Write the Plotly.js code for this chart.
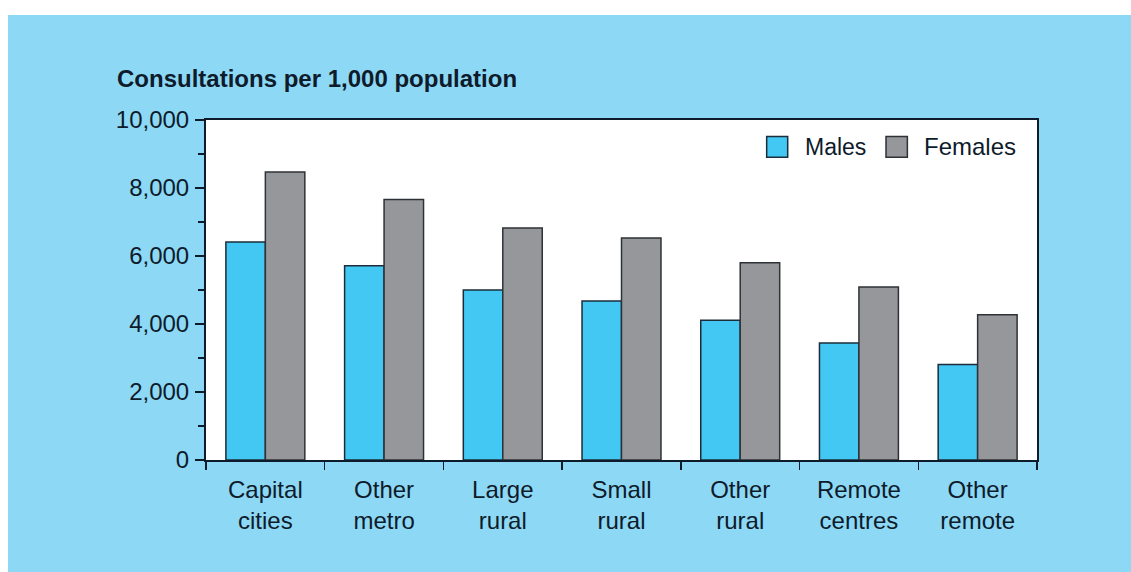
<!DOCTYPE html>
<html>
<head>
<meta charset="utf-8">
<script src="https://cdn.plot.ly/plotly-3.0.1.min.js"></script>
<style>
  html, body { margin: 0; padding: 0; background: #ffffff; width: 1131px; height: 572px; overflow: hidden; }
  #chart { position: absolute; left: 8px; top: 15px; width: 1123px; height: 557px; }
</style>
</head>
<body>
<div id="chart"></div>
<script>
const categories = ['Capital<br>cities', 'Other<br>metro', 'Large<br>rural', 'Small<br>rural', 'Other<br>rural', 'Remote<br>centres', 'Other<br>remote'];
const males   = [6410, 5710, 5000, 4680, 4110, 3440, 2810];
const females = [8470, 7660, 6820, 6530, 5800, 5090, 4270];
const seriesNames = ['Males', 'Females'];
const seriesColors = ['#42c8f2', '#96979b'];

const textColor = '#0d1b2a';
const fontFam = 'Liberation Sans, Arial, sans-serif';

const traces = [
  { type: 'bar', name: seriesNames[0], x: categories, y: males,
    marker: { color: seriesColors[0], line: { color: '#1c2c3a', width: 1.5 } }, showlegend: false },
  { type: 'bar', name: seriesNames[1], x: categories, y: females,
    marker: { color: seriesColors[1], line: { color: '#2e3236', width: 1.5 } }, showlegend: false }
];

const layout = {
  width: 1123, height: 557,
  margin: { l: 198, r: 94, t: 104.5, b: 112 },
  paper_bgcolor: '#8dd8f5',
  plot_bgcolor: '#ffffff',
  font: { family: fontFam, size: 24, color: textColor },
  barmode: 'group',
  bargap: 0.335,
  bargroupgap: 0,
  title: {
    text: '<b>Consultations per 1,000 population</b>',
    font: { family: fontFam, size: 24, color: textColor },
    xref: 'container', x: 109 / 1123, xanchor: 'left',
    yref: 'container', y: 1 - 63.5 / 557, yanchor: 'middle'
  },
  xaxis: {
    type: 'category',
    showline: true, linecolor: textColor, linewidth: 2, mirror: true,
    ticks: 'outside', tickson: 'boundaries', ticklen: 8, tickwidth: 1.5, tickcolor: textColor,
    showgrid: false, zeroline: false,
    ticklabelstandoff: 7,
    tickfont: { family: fontFam, size: 24, color: textColor }
  },
  yaxis: {
    range: [0, 10000], dtick: 2000, tick0: 0, tickformat: ',d',
    showline: true, linecolor: textColor, linewidth: 2, mirror: true,
    ticks: 'outside', ticklen: 9, tickwidth: 1.5, tickcolor: textColor,
    minor: { dtick: 1000, ticks: 'outside', ticklen: 6, tickwidth: 1.5, tickcolor: textColor, showgrid: false },
    showgrid: false, zeroline: false,
    ticklabelstandoff: 1,
    tickfont: { family: fontFam, size: 24, color: textColor }
  },
  shapes: [
    { type: 'rect', xref: 'paper', yref: 'paper', x0: 0.6747, x1: 0.7000, y0: 0.8908, y1: 0.9515,
      fillcolor: seriesColors[0], line: { color: '#1c2c3a', width: 1.5 } },
    { type: 'rect', xref: 'paper', yref: 'paper', x0: 0.8183, x1: 0.8440, y0: 0.8908, y1: 0.9515,
      fillcolor: seriesColors[1], line: { color: '#2e3236', width: 1.5 } }
  ],
  annotations: [
    { xref: 'paper', yref: 'paper', x: 0.7190, y: 0.922, xanchor: 'left', yanchor: 'middle',
      text: seriesNames[0], showarrow: false, font: { family: fontFam, size: 23, color: textColor } },
    { xref: 'paper', yref: 'paper', x: 0.8620, y: 0.922, xanchor: 'left', yanchor: 'middle',
      text: seriesNames[1], showarrow: false, font: { family: fontFam, size: 24, color: textColor } }
  ]
};

Plotly.newPlot('chart', traces, layout, { displayModeBar: false, staticPlot: true });
</script>
</body>
</html>
